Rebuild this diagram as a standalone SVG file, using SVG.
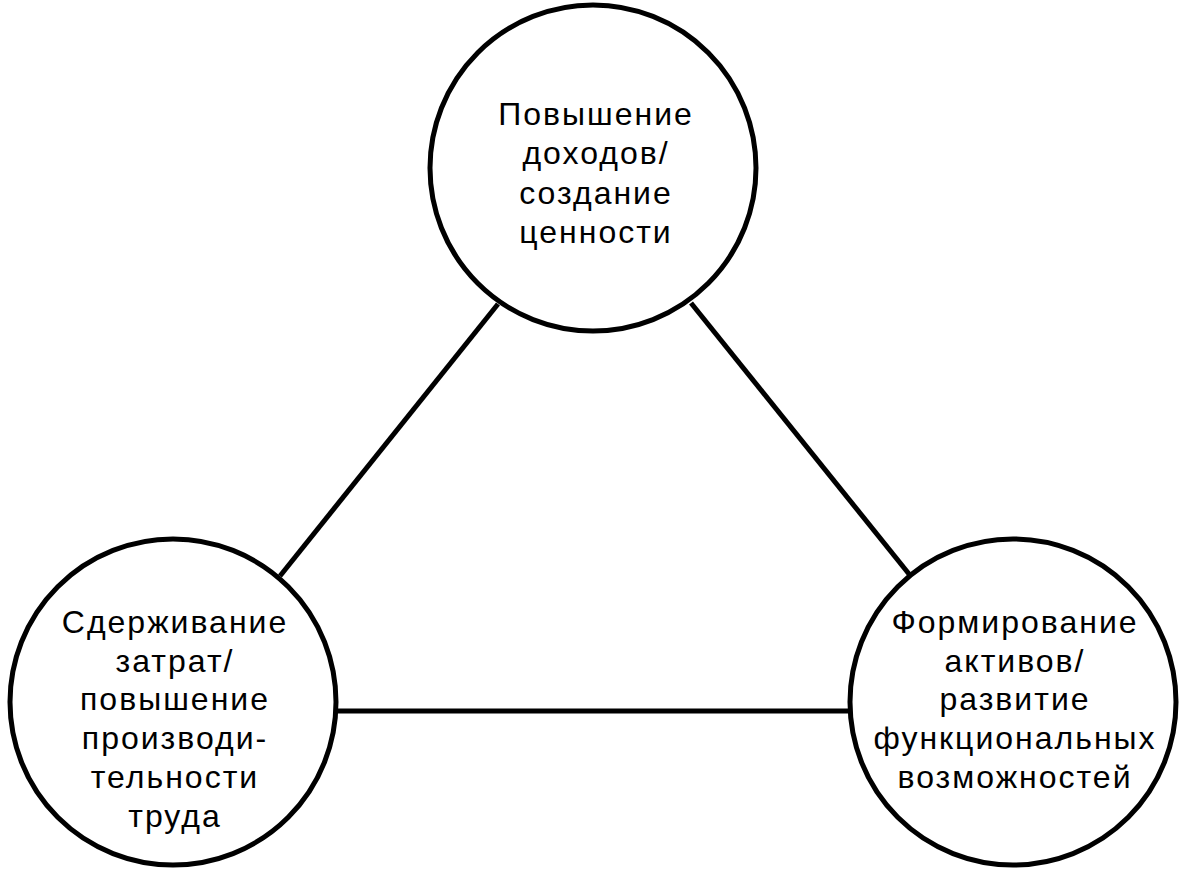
<svg xmlns="http://www.w3.org/2000/svg" width="1186" height="872" viewBox="0 0 1186 872">
<style>
.node{fill:#fff;stroke:#000;stroke-width:5}
.edge{stroke:#000;stroke-width:5;fill:none}
.lbl{font-family:"Liberation Sans",Arial,sans-serif;font-size:32px;letter-spacing:2px;fill:#000;text-anchor:middle}
</style>
<rect width="1186" height="872" fill="#fff"/>
<g id="connectors">
<line class="edge" x1="498" y1="304" x2="280" y2="576"/>
<line class="edge" x1="691" y1="303" x2="909" y2="574"/>
<line class="edge" x1="336" y1="711" x2="850" y2="711"/>
</g>
<g id="node-top">
<circle class="node" cx="593" cy="168" r="163"/>
<text class="lbl" x="596" y="125">Повышение</text>
<text class="lbl" x="596" y="164">доходов/</text>
<text class="lbl" x="596" y="204">создание</text>
<text class="lbl" x="596" y="243">ценности</text>
</g>
<g id="node-left">
<circle class="node" cx="173" cy="702" r="163"/>
<text class="lbl" x="175" y="633">Сдерживание</text>
<text class="lbl" x="175" y="672">затрат/</text>
<text class="lbl" x="175" y="710">повышение</text>
<text class="lbl" x="175" y="749">производи-</text>
<text class="lbl" x="175" y="788">тельности</text>
<text class="lbl" x="175" y="827">труда</text>
</g>
<g id="node-right">
<circle class="node" cx="1013" cy="702" r="163"/>
<text class="lbl" x="1015" y="633">Формирование</text>
<text class="lbl" x="1015" y="672">активов/</text>
<text class="lbl" x="1015" y="710">развитие</text>
<text class="lbl" x="1015" y="749">функциональных</text>
<text class="lbl" x="1015" y="788">возможностей</text>
</g>
</svg>
